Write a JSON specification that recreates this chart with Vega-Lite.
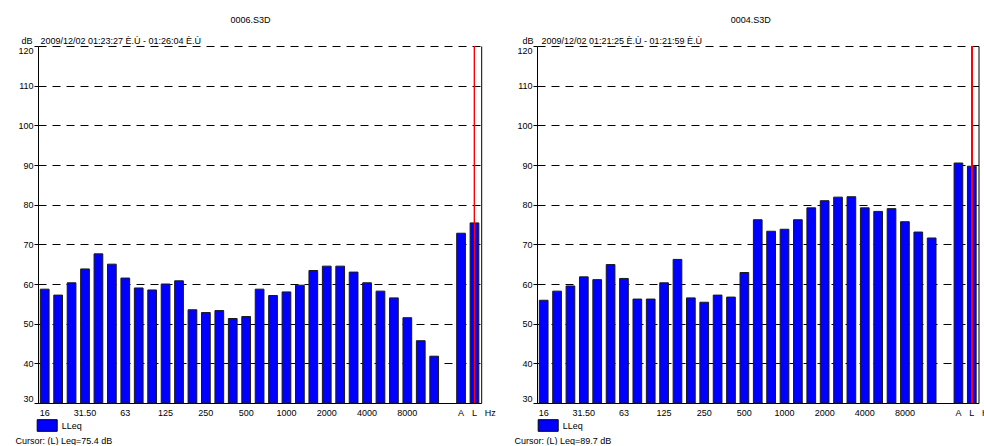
{
  "$schema": "https://vega.github.io/schema/vega-lite/v6.json",
  "background": "white",
  "padding": {"left": 15, "top": 16, "right": 0, "bottom": 0},
  "config": {
    "font": "Liberation Sans",
    "view": {"stroke": null},
    "axis": {"labelColor": "#000", "titleColor": "#000", "titleFontWeight": "normal", "labelFontSize": 9, "titleFontSize": 9, "domainColor": "#000", "tickColor": "#000"},
    "title": {"fontSize": 9, "fontWeight": "normal", "color": "#000"},
    "legend": {"labelColor": "#000", "labelFontSize": 9}
  },
  "datasets": {
    "s0006": [
      {"band": "16", "leq": 58.7}, {"band": "20", "leq": 57.2}, {"band": "25", "leq": 60.3}, {"band": "31.5", "leq": 63.8},
      {"band": "40", "leq": 67.6}, {"band": "50", "leq": 65.0}, {"band": "63", "leq": 61.5}, {"band": "80", "leq": 59.0},
      {"band": "100", "leq": 58.5}, {"band": "125", "leq": 60.0}, {"band": "160", "leq": 60.8}, {"band": "200", "leq": 53.5},
      {"band": "250", "leq": 52.8}, {"band": "315", "leq": 53.3}, {"band": "400", "leq": 51.3}, {"band": "500", "leq": 51.8},
      {"band": "630", "leq": 58.7}, {"band": "800", "leq": 57.1}, {"band": "1000", "leq": 58.0}, {"band": "1250", "leq": 59.7},
      {"band": "1600", "leq": 63.4}, {"band": "2000", "leq": 64.5}, {"band": "2500", "leq": 64.5}, {"band": "3150", "leq": 63.0},
      {"band": "4000", "leq": 60.3}, {"band": "5000", "leq": 58.2}, {"band": "6300", "leq": 56.5}, {"band": "8000", "leq": 51.5},
      {"band": "10000", "leq": 45.7}, {"band": "12500", "leq": 41.8}, {"band": "A", "leq": 72.8}, {"band": "L", "leq": 75.4}
    ],
    "s0004": [
      {"band": "16", "leq": 55.9}, {"band": "20", "leq": 58.2}, {"band": "25", "leq": 59.5}, {"band": "31.5", "leq": 61.8},
      {"band": "40", "leq": 61.1}, {"band": "50", "leq": 64.9}, {"band": "63", "leq": 61.4}, {"band": "80", "leq": 56.2},
      {"band": "100", "leq": 56.2}, {"band": "125", "leq": 60.3}, {"band": "160", "leq": 66.2}, {"band": "200", "leq": 56.5},
      {"band": "250", "leq": 55.4}, {"band": "315", "leq": 57.2}, {"band": "400", "leq": 56.7}, {"band": "500", "leq": 62.9},
      {"band": "630", "leq": 76.2}, {"band": "800", "leq": 73.3}, {"band": "1000", "leq": 73.8}, {"band": "1250", "leq": 76.2},
      {"band": "1600", "leq": 79.2}, {"band": "2000", "leq": 81.0}, {"band": "2500", "leq": 81.9}, {"band": "3150", "leq": 82.0},
      {"band": "4000", "leq": 79.2}, {"band": "5000", "leq": 78.3}, {"band": "6300", "leq": 79.0}, {"band": "8000", "leq": 75.7},
      {"band": "10000", "leq": 73.1}, {"band": "12500", "leq": 71.6}, {"band": "A", "leq": 90.5}, {"band": "L", "leq": 89.7}
    ]
  },
  "spacing": 55,
  "bounds": "flush",
  "resolve": {"scale": {"x": "independent", "y": "independent", "color": "independent"}},
  "hconcat": [
    {
      "width": 443.2, "height": 357,
      "title": {"text": "0006.S3D", "dx": -9, "offset": 11, "frame": "group"},
      "data": {"name": "s0006"},
      "layer": [
        {
          "mark": {"type": "bar", "stroke": "#1a1a1a", "strokeWidth": 1},
          "encoding": {
            "x": {"field": "band", "type": "nominal", "sort": null,
              "scale": {"domain": ["16","20","25","31.5","40","50","63","80","100","125","160","200","250","315","400","500","630","800","1000","1250","1600","2000","2500","3150","4000","5000","6300","8000","10000","12500","16000","A","L"], "paddingInner": 0.35, "paddingOuter": 0.175},
              "axis": {"orient": "bottom", "labelAngle": 0, "ticks": false, "labelPadding": 9.5, "labelBaseline": "middle",
                "labelExpr": "datum.value == '31.5' ? '31.50' : (indexof(['16','63','125','250','500','1000','2000','4000','8000','A','L'], datum.value) >= 0 ? datum.value : '')",
                "title": "Cursor: (L)  Leq=75.4 dB", "titleX": -23, "titleY": 37, "titleAlign": "left", "titleBaseline": "middle", "titleAnchor": "start", "grid": false}},
            "y": {"field": "leq", "type": "quantitative", "scale": {"domain": [30, 120], "nice": false, "zero": false},
              "axis": {"orient": "left", "values": [30,40,50,60,70,80,90,100,110,120], "grid": true, "gridDash": [8,6], "gridColor": "#000", "gridOpacity": 1, "tickSize": 4, "labelPadding": 1, "labelFlush": true,
                "title": "dB", "titleAngle": 0, "titleX": -6, "titleY": -6, "titleAlign": "right", "titleBaseline": "middle"}},
            "y2": {"datum": 30},
            "color": {"datum": "LLeq", "type": "nominal", "scale": {"range": ["#0000ff"]},
              "legend": {"orient": "none", "legendX": -1.3, "legendY": 369, "title": null, "symbolType": "M-1,-0.58H1V0.58H-1Z", "symbolSize": 400, "symbolStrokeColor": "#000", "symbolStrokeWidth": 1, "symbolOpacity": 1, "labelOffset": 4, "padding": 0}}
          }
        },
        {
          "mark": {"type": "rule", "color": "#ff0000", "strokeWidth": 1},
          "encoding": {
            "x": {"datum": "L", "type": "nominal",
              "axis": {"orient": "top", "labels": false, "ticks": false, "domain": false, "grid": false,
                "title": "2009/12/02 01:23:27 È.Ù - 01:26:04 È.Ù", "titleX": 2, "titleY": -6, "titleAlign": "left", "titleBaseline": "middle", "titleAnchor": "start"}},
            "y": {"datum": 120, "type": "quantitative",
              "axis": {"orient": "right", "labels": false, "ticks": false, "grid": false, "domain": true,
                "title": "Hz", "titleAngle": 0, "titleX": 3, "titleY": 366.5, "titleAlign": "left", "titleBaseline": "middle"}},
            "y2": {"datum": 30}
          }
        }
      ],
      "resolve": {"axis": {"x": "independent", "y": "independent"}}
    },
    {
      "width": 441.5, "height": 357,
      "title": {"text": "0004.S3D", "dx": -7, "offset": 11, "frame": "group"},
      "data": {"name": "s0004"},
      "layer": [
        {
          "mark": {"type": "bar", "stroke": "#1a1a1a", "strokeWidth": 1},
          "encoding": {
            "x": {"field": "band", "type": "nominal", "sort": null,
              "scale": {"domain": ["16","20","25","31.5","40","50","63","80","100","125","160","200","250","315","400","500","630","800","1000","1250","1600","2000","2500","3150","4000","5000","6300","8000","10000","12500","16000","A","L"], "paddingInner": 0.35, "paddingOuter": 0.175},
              "axis": {"orient": "bottom", "labelAngle": 0, "ticks": false, "labelPadding": 9.5, "labelBaseline": "middle",
                "labelExpr": "datum.value == '31.5' ? '31.50' : (indexof(['16','63','125','250','500','1000','2000','4000','8000','A','L'], datum.value) >= 0 ? datum.value : '')",
                "title": "Cursor: (L)  Leq=89.7 dB", "titleX": -23, "titleY": 37, "titleAlign": "left", "titleBaseline": "middle", "titleAnchor": "start", "grid": false}},
            "y": {"field": "leq", "type": "quantitative", "scale": {"domain": [30, 120], "nice": false, "zero": false},
              "axis": {"orient": "left", "values": [30,40,50,60,70,80,90,100,110,120], "grid": true, "gridDash": [8,6], "gridColor": "#000", "gridOpacity": 1, "tickSize": 4, "labelPadding": 1, "labelFlush": true,
                "title": "dB", "titleAngle": 0, "titleX": -4, "titleY": -6, "titleAlign": "right", "titleBaseline": "middle"}},
            "y2": {"datum": 30},
            "color": {"datum": "LLeq", "type": "nominal", "scale": {"range": ["#0000ff"]},
              "legend": {"orient": "none", "legendX": 0.7, "legendY": 369, "title": null, "symbolType": "M-1,-0.58H1V0.58H-1Z", "symbolSize": 400, "symbolStrokeColor": "#000", "symbolStrokeWidth": 1, "symbolOpacity": 1, "labelOffset": 4, "padding": 0}}
          }
        },
        {
          "mark": {"type": "rule", "color": "#ff0000", "strokeWidth": 1},
          "encoding": {
            "x": {"datum": "L", "type": "nominal",
              "axis": {"orient": "top", "labels": false, "ticks": false, "domain": false, "grid": false,
                "title": "2009/12/02 01:21:25 È.Ù - 01:21:59 È.Ù", "titleX": 4, "titleY": -6, "titleAlign": "left", "titleBaseline": "middle", "titleAnchor": "start"}},
            "y": {"datum": 120, "type": "quantitative",
              "axis": {"orient": "right", "labels": false, "ticks": false, "grid": false, "domain": true,
                "title": "Hz", "titleAngle": 0, "titleX": 3, "titleY": 366.5, "titleAlign": "left", "titleBaseline": "middle"}},
            "y2": {"datum": 30}
          }
        }
      ],
      "resolve": {"axis": {"x": "independent", "y": "independent"}}
    }
  ]
}
